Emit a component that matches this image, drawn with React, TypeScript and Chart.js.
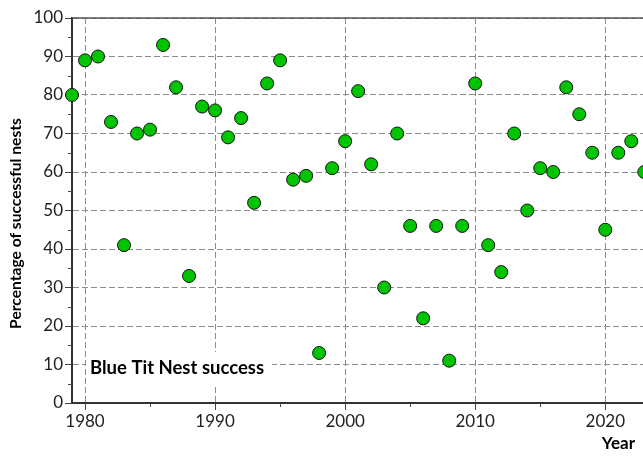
import React, { useEffect, useRef } from "react";
import { Chart, registerables } from "chart.js";

Chart.register(...registerables);

const years = [
  1979, 1980, 1981, 1982, 1983, 1984, 1985, 1986, 1987, 1988, 1989, 1990,
  1991, 1992, 1993, 1994, 1995, 1996, 1997, 1998, 1999, 2000, 2001, 2002,
  2003, 2004, 2005, 2006, 2007, 2008, 2009, 2010, 2011, 2012, 2013, 2014,
  2015, 2016, 2017, 2018, 2019, 2020, 2021, 2022, 2023,
];
const successPct = [
  80, 89, 90, 73, 41, 70, 71, 93, 82, 33, 77, 76,
  69, 74, 52, 83, 89, 58, 59, 13, 61, 68, 81, 62,
  30, 70, 46, 22, 46, 11, 46, 83, 41, 34, 70, 50,
  61, 60, 82, 75, 65, 45, 65, 68, 60,
];
const xTickYears = [1980, 1990, 2000, 2010, 2020];
const xMinorYears = [1985, 1995, 2005, 2015];
const yMinorTicks = [5, 15, 25, 35, 45, 55, 65, 75, 85, 95];
const seriesLabel = "Blue Tit Nest success";
const yTitle = "Percentage of successful nests";
const xTitle = "Year";

const FONT = "Lato, 'DejaVu Sans', sans-serif";

const extras = {
  id: "extras",
  afterDraw(chart: any) {
    const { ctx, chartArea, scales } = chart;
    const { left, right, top, bottom } = chartArea;
    ctx.save();
    // top border
    ctx.strokeStyle = "#555";
    ctx.lineWidth = 1.5;
    ctx.beginPath();
    ctx.moveTo(left, top);
    ctx.lineTo(right, top);
    ctx.stroke();
    // minor ticks
    ctx.strokeStyle = "#444";
    ctx.lineWidth = 1;
    yMinorTicks.forEach((v) => {
      const y = Math.round(scales.y.getPixelForValue(v)) + 0.5;
      ctx.beginPath();
      ctx.moveTo(left - 4, y);
      ctx.lineTo(left, y);
      ctx.stroke();
    });
    xMinorYears.forEach((v) => {
      const x = Math.round(scales.x.getPixelForValue(v)) + 0.5;
      ctx.beginPath();
      ctx.moveTo(x, bottom);
      ctx.lineTo(x, bottom + 4);
      ctx.stroke();
    });
    // label box
    ctx.font = `bold 18.5px ${FONT}`;
    const tw = ctx.measureText(seriesLabel).width;
    const bx = left + 14;
    const by = bottom - 51;
    ctx.fillStyle = "#fff";
    ctx.fillRect(bx, by, tw + 12, 32);
    ctx.fillStyle = "#000";
    ctx.textBaseline = "middle";
    ctx.textAlign = "left";
    ctx.fillText(seriesLabel, bx + 4, by + 16);
    // y title
    ctx.save();
    ctx.translate(16, (top + bottom) / 2 + 13);
    ctx.rotate(-Math.PI / 2);
    ctx.font = `bold 15.6px ${FONT}`;
    ctx.textAlign = "center";
    ctx.textBaseline = "middle";
    ctx.fillText(yTitle, 0, 0);
    ctx.restore();
    // x title
    ctx.font = `bold 17px ${FONT}`;
    ctx.textAlign = "right";
    ctx.textBaseline = "middle";
    ctx.fillText(xTitle, 635, 444);
    ctx.restore();
  },
};

export default function App() {
  const ref = useRef<HTMLCanvasElement | null>(null);
  useEffect(() => {
    if (!ref.current) return;
    const chart = new Chart(ref.current, {
      type: "scatter",
      data: {
        datasets: [
          {
            label: seriesLabel,
            data: years.map((yr, i) => ({ x: yr, y: successPct[i] })),
            pointRadius: 6.5,
            pointHoverRadius: 6.5,
            pointBackgroundColor: "#00c400",
            pointBorderColor: "#111",
            pointBorderWidth: 1,
            clip: false as any,
          },
        ],
      },
      options: {
        responsive: false,
        animation: false,
        devicePixelRatio: 1,
        layout: { autoPadding: false, padding: { top: 18, right: 0, left: 0, bottom: 0 } } as any,
        plugins: { legend: { display: false }, tooltip: { enabled: false } },
        scales: {
          x: {
            type: "linear",
            min: 1979,
            max: 2022.9,
            afterBuildTicks: (s: any) => {
              s.ticks = xTickYears.map((v) => ({ value: v }));
            },
            afterFit: (s: any) => {
              s.height = 54;
            },
            ticks: {
              callback: (v: any) => String(v),
              font: { family: FONT, size: 17 },
              color: "#222",
              padding: 1,
              maxRotation: 0,
              autoSkip: false,
            },
            grid: {
              color: "#8c8c8c",
              lineWidth: 1,
              tickLength: 7,
              tickColor: "#444",
              tickWidth: 1,
              tickBorderDash: [],
            },
            border: { color: "#333", width: 2, dash: [6, 3] },
          },
          y: {
            min: 0,
            max: 100,
            afterFit: (s: any) => {
              s.width = 72;
            },
            ticks: {
              stepSize: 10,
              font: { family: FONT, size: 17 },
              color: "#222",
              padding: 2,
            },
            grid: {
              color: "#8c8c8c",
              lineWidth: 1,
              tickLength: 7,
              tickColor: "#444",
              tickWidth: 1,
              tickBorderDash: [],
            },
            border: { color: "#333", width: 2, dash: [6, 3] },
          },
        },
      },
      plugins: [extras],
    });
    return () => chart.destroy();
  }, []);
  return (
    <div style={{ position: "absolute", left: 0, top: 0, width: 643, height: 457, overflow: "hidden", background: "#fff" }}>
      <canvas ref={ref} width={643} height={457} style={{ display: "block" }} />
    </div>
  );
}
